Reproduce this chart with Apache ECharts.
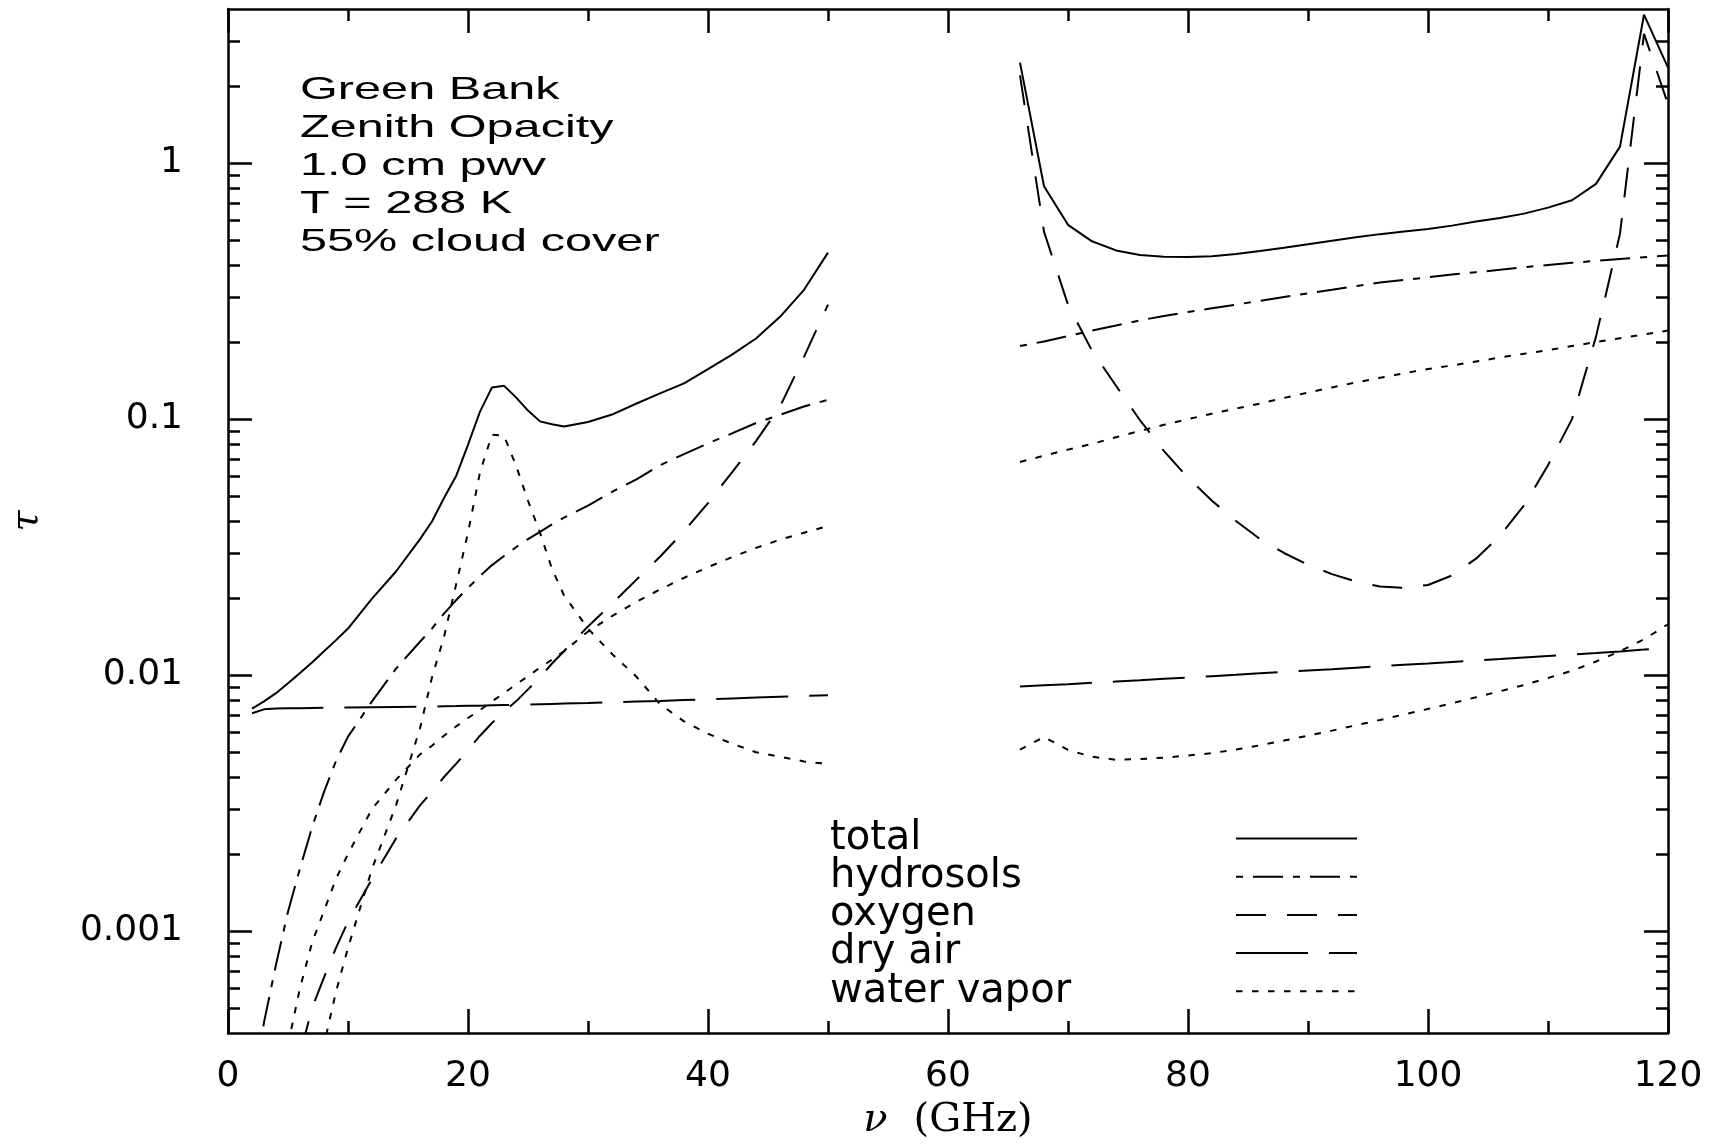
<!DOCTYPE html>
<html>
<head>
<meta charset="utf-8">
<script src="https://cdn.jsdelivr.net/npm/echarts@6/dist/echarts.min.js"></script>
<style>
  html, body { margin: 0; padding: 0; background: #fff; }
  #chart { width: 1724px; height: 1146px; }
</style>
</head>
<body>
<div id="chart"></div>
<script>
// ---------------- data ----------------
const leftFreq = [2,3,4,5,6,7,8,9,10,12,14,16,17,18,19,20,21,22,23,24,25,26,27,28,30,32,34,36,38,40,42,44,46,48,50];
const rightFreq = [66,68,70,72,74,76,78,80,82,84,86,88,90,92,94,96,98,100,102,104,106,108,110,112,114,116,118,120];

const totalLeft = [0.0074,0.0079,0.0085,0.0093,0.0102,0.0112,0.0124,0.0137,0.0152,0.0199,0.0254,0.0340,0.0398,0.0492,0.0598,0.0794,0.107,0.133,0.135,0.1216,0.108,0.098,0.0955,0.0936,0.0975,0.1042,0.1148,0.126,0.138,0.1567,0.1786,0.2065,0.251,0.320,0.447];
const hydroLeft = [0.00022,0.00044,0.00074,0.00119,0.00176,0.00254,0.0035,0.00462,0.00575,0.0079,0.0106,0.0135,0.0152,0.0174,0.0196,0.0219,0.0244,0.0269,0.0292,0.0316,0.034,0.0363,0.0388,0.0412,0.0459,0.052,0.058,0.066,0.073,0.0804,0.088,0.0966,0.104,0.112,0.119];
const oxygenLeft = [null,null,null,0.00022,0.00033,0.0005,0.00066,0.00086,0.00109,0.0016,0.0023,0.0031,0.0035,0.0040,0.0045,0.0051,0.0058,0.0065,0.0072,0.0079,0.0088,0.0098,0.0111,0.0124,0.0155,0.0190,0.0235,0.0290,0.0365,0.047,0.062,0.082,0.112,0.175,0.28];
const dryLeft = [0.0071,0.00735,0.0074,0.00742,0.00743,0.00744,0.00745,0.00746,0.00747,0.00749,0.00751,0.00753,0.00754,0.00756,0.00757,0.00759,0.0076,0.00762,0.00764,0.00766,0.00768,0.0077,0.00772,0.00774,0.00778,0.00783,0.00788,0.00793,0.00799,0.00805,0.00811,0.00817,0.00823,0.00829,0.00834];
const waterLeft = [null,null,null,null,0.00011,0.0002,0.00036,0.00058,0.00086,0.00175,0.0031,0.0062,0.0098,0.0141,0.0225,0.036,0.062,0.087,0.086,0.066,0.048,0.036,0.026,0.0205,0.0152,0.0121,0.0099,0.0077,0.0066,0.0059,0.0054,0.005,0.0048,0.0046,0.0045];
const contLeft = [null,null,null,0.00036,0.0006,0.0009,0.0012,0.0016,0.002,0.003,0.0039,0.0049,0.0053,0.0058,0.0063,0.0068,0.0073,0.0079,0.0085,0.0092,0.0099,0.0107,0.0115,0.0124,0.0148,0.017,0.0193,0.0216,0.024,0.0264,0.0289,0.0314,0.0338,0.036,0.0382];

const totalRight = [2.47,0.812,0.574,0.495,0.456,0.438,0.431,0.430,0.433,0.442,0.454,0.467,0.482,0.498,0.513,0.528,0.541,0.553,0.570,0.591,0.610,0.635,0.670,0.716,0.830,1.16,3.80,2.36];
const hydroRight = [0.193,0.201,0.211,0.222,0.232,0.243,0.253,0.262,0.271,0.280,0.290,0.300,0.310,0.320,0.331,0.342,0.350,0.358,0.367,0.375,0.383,0.392,0.400,0.408,0.415,0.422,0.429,0.436];
const oxygenRight = [2.2,0.54,0.28,0.185,0.135,0.099,0.075,0.059,0.048,0.040,0.034,0.030,0.027,0.0248,0.0232,0.0222,0.0219,0.0225,0.0245,0.0285,0.035,0.046,0.066,0.1,0.21,0.53,3.2,1.7];
const dryRight = [0.00902,0.00912,0.00922,0.00933,0.00944,0.00955,0.00967,0.00979,0.00991,0.01003,0.01016,0.01029,0.01042,0.01055,0.01069,0.01083,0.01097,0.01111,0.01126,0.01141,0.01156,0.01172,0.01188,0.01204,0.0122,0.01237,0.01258,0.0128];
const waterRight = [0.00512,0.00573,0.0051,0.0048,0.00467,0.0047,0.00476,0.00485,0.00496,0.00512,0.00532,0.00555,0.0058,0.00607,0.00637,0.00668,0.00702,0.00738,0.00776,0.0082,0.00865,0.00915,0.00975,0.0104,0.0113,0.0124,0.0138,0.0158];
const contRight = [0.068,0.072,0.076,0.080,0.085,0.090,0.095,0.100,0.105,0.110,0.115,0.121,0.127,0.133,0.139,0.145,0.151,0.157,0.162,0.168,0.174,0.180,0.186,0.193,0.200,0.207,0.214,0.222];

const legendNames = ['total', 'hydrosols', 'oxygen', 'dry air', 'water vapor'];
const annotationLines = ['Green Bank', 'Zenith Opacity', '1.0 cm pwv', 'T = 288 K', '55% cloud cover'];

const yMajorTicks = [0.001, 0.01, 0.1, 1];
const yTickLabels = ['0.001', '0.01', '0.1', '1'];
const yMinorTicks = [0.0005,0.0006,0.0007,0.0008,0.0009,
  0.002,0.003,0.004,0.005,0.006,0.007,0.008,0.009,
  0.02,0.03,0.04,0.05,0.06,0.07,0.08,0.09,
  0.2,0.3,0.4,0.5,0.6,0.7,0.8,0.9,
  2,3];

// ---------------- build ----------------
function pairs(freqs, vals) { return freqs.map((f, i) => [f, vals[i]]); }
function joined(lv, rv) {
  return pairs(leftFreq, lv).concat([[58, null]], pairs(rightFreq, rv));
}

const BLACK = '#000';
const tickStyle = { color: BLACK, width: 2.5 };
const sansFont = 'DejaVu Sans';

function lineSeries(name, lv, rv, dash) {
  return {
    name: name, type: 'line', xAxisIndex: 0, yAxisIndex: 0,
    data: joined(lv, rv),
    symbol: 'none', showSymbol: false, connectNulls: false, smooth: false,
    silent: true,
    lineStyle: { color: BLACK, width: 2, type: dash, cap: 'butt' },
    itemStyle: { color: BLACK },
    emphasis: { disabled: true }
  };
}

function xAxisDef(pos, showLabel) {
  return {
    type: 'value', position: pos, min: 0, max: 120, interval: 20,
    axisLine: { show: true, onZero: false, lineStyle: { color: BLACK, width: 2.5 } },
    axisTick: { show: true, inside: true, length: 24, lineStyle: tickStyle },
    minorTick: { show: true, splitNumber: 2, length: 12, lineStyle: tickStyle },
    splitLine: { show: false },
    minorSplitLine: { show: false },
    axisLabel: { show: showLabel, margin: 26, color: BLACK, fontSize: 36, fontFamily: sansFont },
    name: showLabel ? '{nu|ν}{sp| }{u|(GHz)}' : '',
    nameLocation: 'middle', nameGap: 68,
    nameTextStyle: {
      color: BLACK,
      rich: {
        nu: { fontFamily: 'DejaVu Serif', fontStyle: 'italic', fontSize: 40, color: BLACK },
        sp: { fontFamily: 'DejaVu Serif', fontSize: 40, width: 26, color: BLACK },
        u: { fontFamily: 'DejaVu Serif', fontSize: 40, color: BLACK }
      }
    }
  };
}

function yAxisDef(pos, ticks, len, showLine, labels) {
  return {
    type: 'log', logBase: 10, position: pos, min: 0.0004, max: 4,
    axisLine: { show: showLine, onZero: false, lineStyle: { color: BLACK, width: 2.5 } },
    axisTick: { show: true, inside: true, length: len, lineStyle: tickStyle, customValues: ticks },
    minorTick: { show: false },
    splitLine: { show: false },
    axisLabel: labels ? {
      show: true, margin: 45, color: BLACK, fontSize: 36, fontFamily: sansFont,
      customValues: yMajorTicks,
      formatter: function (v) {
        const i = yMajorTicks.findIndex(t => Math.abs(Math.log10(t) - Math.log10(v)) < 1e-6);
        return i >= 0 ? yTickLabels[i] : '';
      }
    } : { show: false },
    name: labels ? 'τ' : '',
    nameLocation: 'middle', nameGap: 182, nameRotate: 90,
    nameTextStyle: { fontFamily: 'DejaVu Serif', fontStyle: 'italic', fontSize: 38, color: BLACK }
  };
}

const option = {
  animation: false,
  backgroundColor: '#fff',
  grid: { left: 228, right: 56, top: 9, bottom: 107, containLabel: false },
  legend: {
    data: legendNames,
    orient: 'vertical', left: 830, top: 818.5, padding: 0, itemGap: -1.8,
    itemWidth: 121, itemHeight: 14, align: 'right', selectedMode: false,
    itemStyle: { color: 'rgba(0,0,0,0)', borderColor: 'rgba(0,0,0,0)', borderWidth: 0 },
    formatter: function (name) { return '{a|' + name + '}'; },
    textStyle: {
      color: BLACK, lineHeight: 36.6, fontSize: 40, fontFamily: sansFont,
      rich: { a: { width: 401, height: 36.6, align: 'left', fontSize: 40, fontFamily: sansFont, lineHeight: 36.6, color: BLACK } }
    }
  },
  xAxis: [ xAxisDef('bottom', true), xAxisDef('top', false) ],
  yAxis: [
    yAxisDef('left', yMajorTicks, 24, true, true),
    yAxisDef('left', yMinorTicks, 12, false, false),
    yAxisDef('right', yMajorTicks, 24, true, false),
    yAxisDef('right', yMinorTicks, 12, false, false)
  ],
  graphic: annotationLines.map((t, i) => ({
    type: 'text', x: 300, y: 89.7 + i * 38, scaleX: 1.52, scaleY: 1, silent: true,
    style: { text: t, fill: BLACK, font: '32px "Liberation Sans"', align: 'left', verticalAlign: 'middle' }
  })),
  series: [
    lineSeries('total', totalLeft, totalRight, 'solid'),
    lineSeries('hydrosols', hydroLeft, hydroRight, [7, 10, 30, 10]),
    lineSeries('oxygen', oxygenLeft, oxygenRight, [30, 21]),
    lineSeries('dry air', dryLeft, dryRight, [72, 21]),
    lineSeries('water vapor', waterLeft, waterRight, [6.5, 9.5]),
    lineSeries('water vapor continuum', contLeft, contRight, [6.5, 9.5])
  ]
};

const chart = echarts.init(document.getElementById('chart'), null, { renderer: 'canvas', width: 1724, height: 1146 });
chart.setOption(option);
</script>
</body>
</html>
